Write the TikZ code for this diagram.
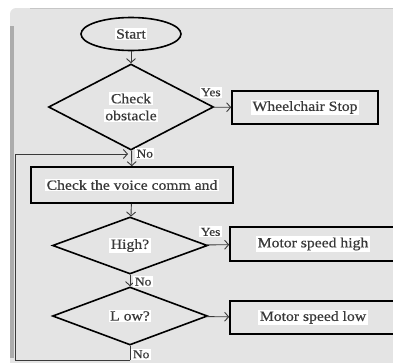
\documentclass[tikz,border=0pt]{standalone}
\usepackage{fontspec}
\setmainfont[FakeStretch=1.12,FakeBold=0.6]{Liberation Serif}
\usetikzlibrary{shapes.geometric,arrows.meta}

\definecolor{panelgray}{HTML}{E4E4E4}
\definecolor{inkgray}{HTML}{3A3A3A}
\setlength{\fboxsep}{1.5pt}
\newcommand{\tbox}[1]{\colorbox{white}{#1}}

\tikzset{
  block/.style={draw=black, line width=1.6pt, rectangle, inner sep=0pt, text=inkgray, font=\fontsize{14}{16}\selectfont},
  decide/.style={draw=black, line width=1.6pt, diamond, aspect=2, inner sep=0pt, text=inkgray, align=center, font=\fontsize{14}{16}\selectfont},
  flow/.style={inkgray, line width=0.9pt, -{Straight Barb[length=4pt,width=9pt]}},
  tag/.style={inner sep=0pt, text=inkgray, font=\fontsize{12}{14}\selectfont}
}

\begin{document}
\begin{tikzpicture}[x=1pt,y=-1pt]
    \useasboundingbox (0,0) rectangle (393,362);
    \clip (0,0) rectangle (393,362);
    \fill[panelgray, rounded corners=6pt] (10,8) rectangle (400,370);
    \fill[gray!65] (10,26) rectangle (13.5,358);
    \draw[gray!45, line width=0.8pt] (30,8.5) -- (393,8.5);

    \node[block, ellipse, minimum width=100pt, minimum height=33pt] (start) at (131,34) {\tbox{Start}};
    \node[decide, minimum width=165pt, minimum height=86pt] (obst) at (131,107) {\tbox{Check}\\[1pt]\tbox{obstacle}};
    \node[block, minimum width=146pt, minimum height=33pt] (stop) at (305,107.5) {\tbox{Wheelchair Stop}};
    \node[block, minimum width=202pt, minimum height=36pt] (voice) at (132,185) {\tbox{Check the voice comm and}};
    \node[decide, minimum width=155pt, minimum height=57pt] (high) at (130,245.5) {\tbox{High?}};
    \node[block, minimum width=166pt, minimum height=34pt] (mhigh) at (313,244) {\tbox{Motor speed high}};
    \node[decide, minimum width=155pt, minimum height=58pt] (low) at (130,316) {\tbox{L ow?}};
    \node[block, minimum width=166pt, minimum height=33pt] (mlow) at (313,317.5) {\tbox{Motor speed low}};

    \coordinate (join) at (130,154);
    \coordinate (botright) at (130,360);
    \coordinate (botleft) at (15,360);
    \coordinate (topleft) at (15,154);

    \draw[flow] (start) -- (obst);
    \draw[flow] (obst) -- (stop) node[tag, pos=0, above=9pt, xshift=-3pt] {\tbox{Yes}};
    \draw[flow] (obst) -- (voice) node[tag, pos=0.2, right=3pt] {\tbox{No}};
    \draw[flow] (voice) -- (high);
    \draw[flow] (high) -- (mhigh) node[tag, pos=0, above=7pt, xshift=4pt] {\tbox{Yes}};
    \draw[flow] (high) -- (low) node[tag, pos=0.6, right=3pt] {\tbox{No}};
    \draw[flow] (low) -- (mlow);
    \draw[inkgray, line width=0.9pt] (low.south) -- (botright) node[tag, pos=0.6, right=1pt] {\tbox{No}};
    \draw[flow] (botright) -- (botleft) -- (topleft) -- ([xshift=-2pt]join);
\end{tikzpicture}
\end{document}
